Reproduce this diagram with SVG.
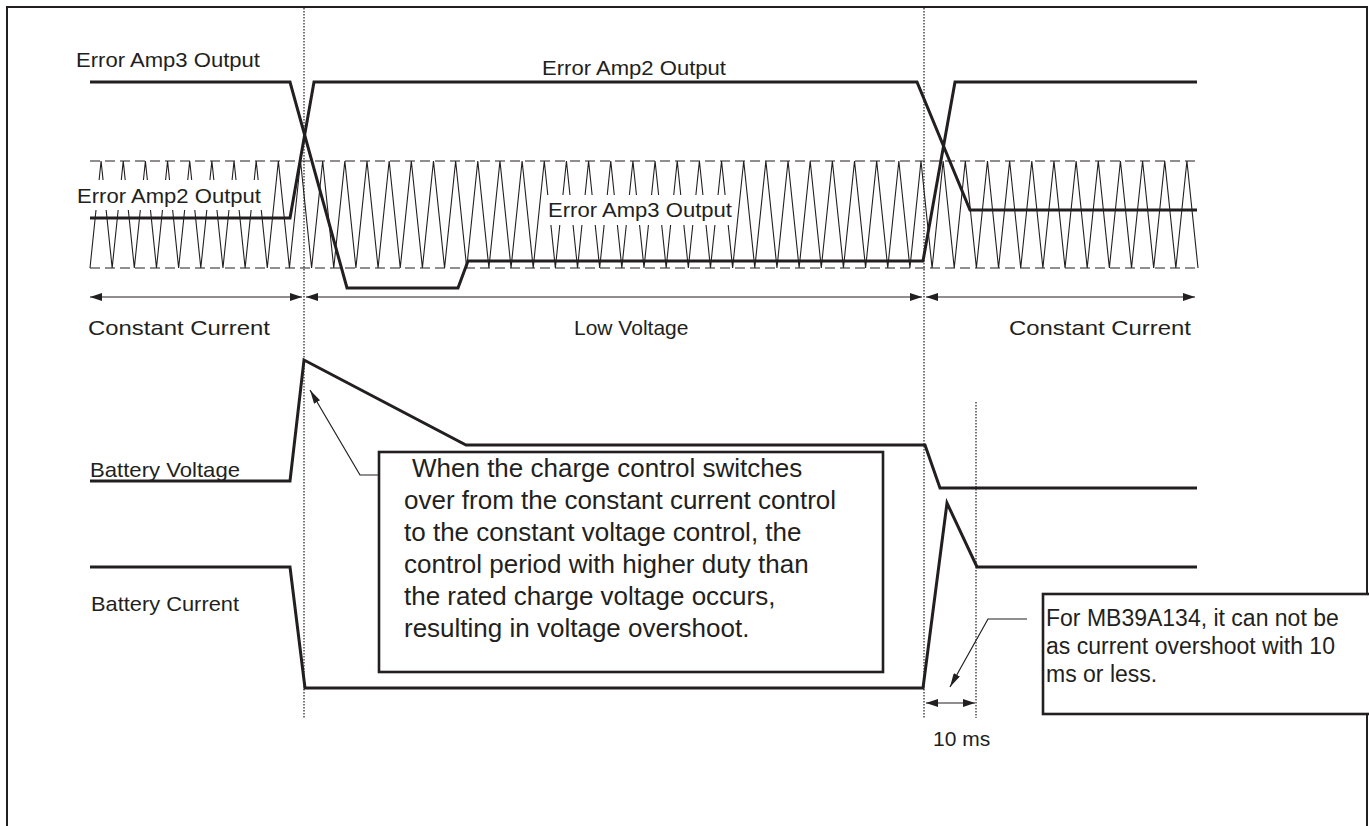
<svg xmlns="http://www.w3.org/2000/svg" width="1369" height="826" viewBox="0 0 1369 826">
<style>
.t{font-family:"Liberation Sans",Arial,sans-serif;fill:#231f20}
.s{font-size:21px}
.b{font-size:26px}
.r{font-size:23px}
.thick{fill:none;stroke:#231f20;stroke-width:3;stroke-linejoin:miter}
.thin{fill:none;stroke:#231f20;stroke-width:1.1}
.dash{fill:none;stroke:#231f20;stroke-width:1.1;stroke-dasharray:10 5}
.dot{fill:none;stroke:#555;stroke-width:1.6;stroke-dasharray:1.5 1.5}
.box{fill:#fff;stroke:#231f20;stroke-width:2.6}
.arr{fill:none;stroke:#231f20;stroke-width:1.2}
</style>
<defs>
<marker id="ah" viewBox="0 0 12 8" refX="12" refY="4" markerWidth="12" markerHeight="8" markerUnits="userSpaceOnUse" orient="auto-start-reverse"><path d="M0,0 L12,4 L0,8 Z" fill="#231f20"/></marker>
<marker id="lh" viewBox="0 0 14 7" refX="14" refY="3.5" markerWidth="14" markerHeight="7" markerUnits="userSpaceOnUse" orient="auto"><path d="M0,0 L14,3.5 L0,7 Z" fill="#231f20"/></marker>
</defs>
<rect x="7" y="7" width="1360" height="850" fill="#fff" stroke="#231f20" stroke-width="2"/>

<g id="guides">
<line class="dot" x1="304" y1="8" x2="304" y2="718"/>
<line class="dot" x1="924" y1="8" x2="924" y2="718"/>
<line class="dot" x1="976" y1="402" x2="976" y2="718"/>
</g>

<g id="ramp">
<line class="dash" x1="90" y1="161" x2="1198" y2="161"/>
<line class="dash" x1="90" y1="268" x2="1198" y2="268"/>
<polyline class="thin" points="90,268 101.08,161 112.16,268 123.24,161 134.32,268 145.4,161 156.48,268 167.56,161 178.64,268 189.72,161 200.8,268 211.88,161 222.96,268 234.04,161 245.12,268 256.2,161 267.28,268 278.36,161 289.44,268 300.52,161 311.6,268 322.68,161 333.76,268 344.84,161 355.92,268 367,161 378.08,268 389.16,161 400.24,268 411.32,161 422.4,268 433.48,161 444.56,268 455.64,161 466.72,268 477.8,161 488.88,268 499.96,161 511.04,268 522.12,161 533.2,268 544.28,161 555.36,268 566.44,161 577.52,268 588.6,161 599.68,268 610.76,161 621.84,268 632.92,161 644,268 655.08,161 666.16,268 677.24,161 688.32,268 699.4,161 710.48,268 721.56,161 732.64,268 743.72,161 754.8,268 765.88,161 776.96,268 788.04,161 799.12,268 810.2,161 821.28,268 832.36,161 843.44,268 854.52,161 865.6,268 876.68,161 887.76,268 898.84,161 909.92,268 921,161 932.08,268 943.16,161 954.24,268 965.32,161 976.4,268 987.48,161 998.56,268 1009.64,161 1020.72,268 1031.8,161 1042.88,268 1053.96,161 1065.04,268 1076.12,161 1087.2,268 1098.28,161 1109.36,268 1120.44,161 1131.52,268 1142.6,161 1153.68,268 1164.76,161 1175.84,268 1186.92,161 1198,268"/>
<rect x="73" y="180" width="191" height="30" fill="#fff"/>
<rect x="545" y="195" width="191" height="30" fill="#fff"/>
</g>

<g id="error-amp3">
<polyline class="thick" points="90,82 290,82 347,288 458,288 468,261 923,261 955,82 1197,82"/>
</g>
<g id="error-amp2">
<polyline class="thick" points="90,218 290,218 314,82 917,82 970,210 1197,210"/>
</g>
<g id="battery-voltage">
<polyline class="thick" points="90,481 290,481 304,360 466,445 925,445 940,488 1197,488"/>
</g>
<g id="battery-current">
<polyline class="thick" points="90,567 290,567 305,688 923,688 947,503 977,567 1197,567"/>
</g>

<g id="labels">
<text class="t s" x="76" y="67" textLength="184" lengthAdjust="spacingAndGlyphs">Error Amp3 Output</text>
<text class="t s" x="542" y="75" textLength="184" lengthAdjust="spacingAndGlyphs">Error Amp2 Output</text>
<text class="t s" x="77" y="203" textLength="184" lengthAdjust="spacingAndGlyphs">Error Amp2 Output</text>
<text class="t s" x="548" y="217" textLength="184" lengthAdjust="spacingAndGlyphs">Error Amp3 Output</text>
<text class="t s" x="88" y="335" textLength="182" lengthAdjust="spacingAndGlyphs">Constant Current</text>
<text class="t s" x="574" y="335">Low Voltage</text>
<text class="t s" x="1009" y="335" textLength="182" lengthAdjust="spacingAndGlyphs">Constant Current</text>
<text class="t s" x="90" y="477" textLength="150" lengthAdjust="spacingAndGlyphs">Battery Voltage</text>
<text class="t s" x="91" y="611" textLength="148" lengthAdjust="spacingAndGlyphs">Battery Current</text>
<text class="t s" x="933" y="746">10 ms</text>
</g>

<g id="connectors">
<line class="arr" x1="90" y1="297" x2="302" y2="297" marker-start="url(#ah)" marker-end="url(#ah)"/>
<line class="arr" x1="306" y1="297" x2="922" y2="297" marker-start="url(#ah)" marker-end="url(#ah)"/>
<line class="arr" x1="926" y1="297" x2="1195" y2="297" marker-start="url(#ah)" marker-end="url(#ah)"/>
<line class="arr" x1="926" y1="703" x2="975" y2="703" marker-start="url(#ah)" marker-end="url(#ah)"/>
<polyline class="arr" points="379,475 360,475 310,390" marker-end="url(#lh)"/>
<polyline class="arr" points="1027,619 988,619 950,687" marker-end="url(#lh)"/>
</g>

<g id="note-overshoot">
<rect class="box" x="379" y="452" width="504" height="220"/>
<text class="t b" x="412" y="477">When the charge control switches</text>
<text class="t b" x="404" y="509">over from the constant current control</text>
<text class="t b" x="404" y="541">to the constant voltage control, the</text>
<text class="t b" x="404" y="573">control period with higher duty than</text>
<text class="t b" x="404" y="605">the rated charge voltage occurs,</text>
<text class="t b" x="404" y="637">resulting in voltage overshoot.</text>
</g>

<g id="note-mb39a134">
<rect class="box" x="1043" y="594" width="340" height="120"/>
<text class="t r" x="1046" y="626">For MB39A134, it can not be</text>
<text class="t r" x="1046" y="654">as current overshoot with 10</text>
<text class="t r" x="1046" y="682">ms or less.</text>
</g>
</svg>
